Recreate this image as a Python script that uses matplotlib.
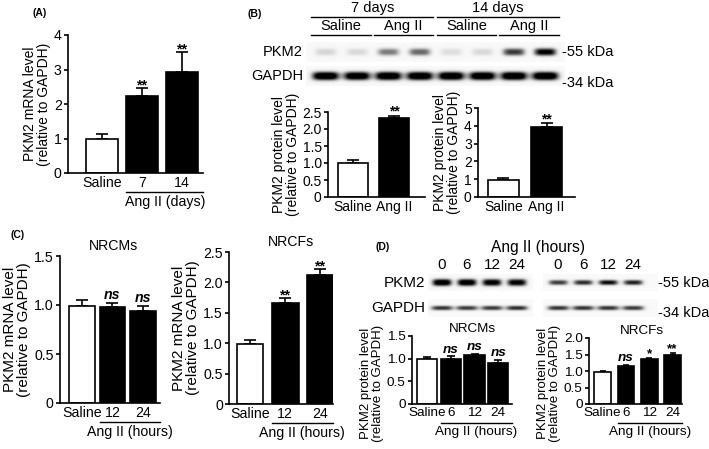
import numpy as np
import matplotlib
matplotlib.use("Agg")
from matplotlib import pyplot as plt
from matplotlib import transforms

plt.rcParams['font.family'] = ['Liberation Sans', 'DejaVu Sans']

# ---- data ----
# (A) mRNA, heart tissue
a_labels = ["Saline", "7", "14"]
a_mean = [1.0, 2.22, 2.92]
a_err = [0.12, 0.23, 0.58]
a_marks = ["", "**", "**"]

# (B) western blot, 7 and 14 days
b_groups = ["7 days", "14 days"]
b_treat = ["Saline", "Ang II", "Saline", "Ang II"]
b_pkm2 = [0.22, 0.2, 0.55, 0.62, 0.18, 0.2, 0.78, 1.0]
b_gapdh = [0.95, 0.92, 0.95, 0.95, 0.95, 0.95, 0.95, 0.95]
b_labels = ["Saline", "Ang II"]
b7_mean = [1.0, 2.32]
b7_err = [0.1, 0.06]
b14_mean = [0.97, 3.93]
b14_err = [0.1, 0.2]
b_marks = ["", "**"]

# (C) mRNA, cells
c_labels = ["Saline", "12", "24"]
c_cm_mean = [0.99, 0.98, 0.94]
c_cm_err = [0.06, 0.04, 0.05]
c_cm_marks = ["", "ns", "ns"]
c_cf_mean = [0.99, 1.66, 2.12]
c_cf_err = [0.06, 0.08, 0.1]
c_cf_marks = ["", "**", "**"]

# (D) western blot, cells
d_hours = ["0", "6", "12", "24", "0", "6", "12", "24"]
d_pkm2 = [0.95, 0.95, 0.9, 0.88, 0.7, 0.75, 0.85, 0.78]
d_gapdh = [0.8, 0.78, 0.78, 0.82, 0.8, 0.8, 0.8, 0.78]
d_labels = ["Saline", "6", "12", "24"]
d_cm_mean = [1.0, 1.0, 1.07, 0.9]
d_cm_err = [0.03, 0.05, 0.04, 0.07]
d_cm_marks = ["", "ns", "ns", "ns"]
d_cf_mean = [0.97, 1.16, 1.37, 1.49]
d_cf_err = [0.03, 0.03, 0.03, 0.05]
d_cf_marks = ["", "ns", "*", "**"]

W, H = 709, 449
fig = plt.figure(figsize=(W / 100, H / 100), dpi=100)


def px_axes(x0, y0, x1, y1):
    # axes from pixel box (y measured from top)
    return fig.add_axes([x0 / W, 1 - y1 / H, (x1 - x0) / W, (y1 - y0) / H])


def tick_text(v, step):
    if v == 0:
        return "0"
    return "%.1f" % v if step < 1 else "%d" % v


def bar_panel(ax, labels, means, errs, marks, ymax, step, bar_w, xlim,
              ylabel, fs=10.2, lfs=10, cap=4, group=None, title=None, title_x=0.5,
              label_y=0.5):
    x = np.arange(len(means))
    colors = ["white"] + ["black"] * (len(means) - 1)
    ax.bar(x, means, width=bar_w, color=colors, edgecolor="black", linewidth=1.2, zorder=2)
    ax.errorbar(x, means, yerr=[np.zeros(len(errs)), errs], fmt="none", ecolor="black",
                elinewidth=1.2, capsize=cap, capthick=1.2, zorder=1)
    for xi, m, e, mk in zip(x, means, errs, marks):
        if not mk:
            continue
        if mk == "ns":
            ax.text(xi, m + e + ymax * 0.01, mk, ha="center", va="bottom", fontsize=fs,
                    fontweight="bold", style="italic")
        else:
            ax.text(xi, m + e - ymax * 0.03, mk, ha="center", va="bottom", fontsize=fs,
                    fontweight="bold")
    ax.set_xlim(*xlim)
    ax.set_ylim(0, ymax)
    ticks = np.arange(0, ymax + step / 2, step)
    ax.set_yticks(ticks, [tick_text(t, step) for t in ticks], fontsize=fs)
    ax.set_xticks(x, labels, fontsize=fs)
    ax.tick_params(axis="x", length=0, pad=2.5)
    ax.tick_params(axis="y", length=3, width=1.2, pad=1.5)
    for s in ["top", "right"]:
        ax.spines[s].set_visible(False)
    for s in ["left", "bottom"]:
        ax.spines[s].set_linewidth(1.2)
    ax.set_ylabel(ylabel, fontsize=lfs, linespacing=1.0, labelpad=2)
    ax.yaxis.label.set_y(label_y)
    if group is not None:
        x_start = 1 - bar_w / 2
        tr = transforms.offset_copy(ax.get_xaxis_transform(), fig=fig, y=-14, units="points")
        ax.plot([x_start, xlim[1]], [0, 0], color="black", lw=1.0, transform=tr, clip_on=False)
        tr2 = transforms.offset_copy(ax.get_xaxis_transform(), fig=fig, y=-15.5, units="points")
        ax.text((x_start + xlim[1]) / 2, 0, group, ha="center", va="top", fontsize=fs,
                transform=tr2)
    if title is not None:
        ax.text(title_x, 1.02, title, ha="center", va="bottom", fontsize=fs,
                transform=ax.transAxes)


def blot_row(ax, lanes, levels, row, x0, x1, hw, hh, bg=0.05, half=0.4, gain=1.0):
    xs = np.linspace(x0, x1, 400)
    ys = np.linspace(row - half, row + half, 50)
    X, Y = np.meshgrid(xs, ys)
    dark = np.full(X.shape, bg)
    for p, lv in zip(lanes, levels):
        dark += gain * lv * np.exp(-np.abs((X - p) / hw) ** 4 - np.abs((Y - row) / hh) ** 2.5)
    ax.imshow(np.clip(dark, 0, 1), cmap="Greys", vmin=0, vmax=1, aspect="auto",
              extent=[x0, x1, row + half, row - half], interpolation="bilinear")


# ---- (A) ----
axA = px_axes(68, 35, 203, 173)
bar_panel(axA, a_labels, a_mean, a_err, a_marks, 4, 1, 0.78, (-0.85, 2.525),
          "PKM2 mRNA level\n(relative to GAPDH)", cap=4.5, group="Ang II (days)")
fig.text(40 / W, 1 - 13 / H, "(A)", fontsize=7.5, fontweight="bold", ha="center", va="center")

# ---- (B) blot ----
axBb = px_axes(305, 40, 565, 88)
b_lanes = np.arange(len(b_pkm2))
blot_row(axBb, b_lanes, b_pkm2, 0, -0.62, 7.62, 0.36, 0.16)
blot_row(axBb, b_lanes, b_gapdh, 1, -0.62, 7.62, 0.44, 0.18, gain=1.25)
axBb.set_xlim(-0.64, 7.64)
axBb.set_ylim(1.5, -0.5)
axBb.axis("off")
for i, g in enumerate(b_groups):
    x0, x1 = 4 * i - 0.45, 4 * i + 3.45
    axBb.plot([x0, x1], [-1.46, -1.46], color="black", lw=1.0, clip_on=False)
    axBb.text((x0 + x1) / 2, -1.55, g, ha="center", va="bottom", fontsize=10.5)
for i, t in enumerate(b_treat):
    x0, x1 = 2 * i - 0.45, 2 * i + 1.45
    axBb.plot([x0, x1], [-0.71, -0.71], color="black", lw=1.0, clip_on=False)
    axBb.text((x0 + x1) / 2, -0.8, t, ha="center", va="bottom", fontsize=10.5)
axBb.text(-0.7, 0, "PKM2", ha="right", va="center", fontsize=10.5)
axBb.text(-0.7, 1, "GAPDH", ha="right", va="center", fontsize=10.5)
axBb.text(7.55, 0, "-55 kDa", ha="left", va="center", fontsize=10.5)
axBb.text(7.55, 1.3, "-34 kDa", ha="left", va="center", fontsize=10.5)
fig.text(255 / W, 1 - 14 / H, "(B)", fontsize=7.5, fontweight="bold", ha="center", va="center")

axB1 = px_axes(328, 112, 425, 197)
bar_panel(axB1, b_labels, b7_mean, b7_err, b_marks, 2.5, 0.5, 0.72, (-0.61, 1.76),
          "PKM2 protein level\n(relative to GAPDH)", fs=10, cap=4)
axB2 = px_axes(478, 108, 575, 197)
bar_panel(axB2, b_labels, b14_mean, b14_err, b_marks, 5, 1, 0.72, (-0.59, 1.66),
          "PKM2 protein level\n(relative to GAPDH)", fs=10, cap=4)

# ---- (C) ----
axC1 = px_axes(60, 256, 160, 403)
bar_panel(axC1, c_labels, c_cm_mean, c_cm_err, c_cm_marks, 1.5, 0.5, 0.84, (-0.72, 2.56),
          "PKM2 mRNA level\n(relative to GAPDH)", lfs=11, cap=4, group="Ang II (hours)",
          title="NRCMs", title_x=0.53)
axC2 = px_axes(229, 252, 333, 404)
bar_panel(axC2, c_labels, c_cf_mean, c_cf_err, c_cf_marks, 2.5, 0.5, 0.77, (-0.6, 2.37),
          "PKM2 mRNA level\n(relative to GAPDH)", lfs=11, cap=4, group="Ang II (hours)",
          title="NRCFs", title_x=0.6)
fig.text(18 / W, 1 - 235 / H, "(C)", fontsize=7.5, fontweight="bold", ha="center", va="center")

# ---- (D) blot ----
axDb = px_axes(428, 272, 658, 320)
d_lanes = np.r_[np.arange(4), np.arange(4) + 4.65]
blot_row(axDb, d_lanes[:4], d_pkm2[:4], 0, -0.56, 3.64, 0.4, 0.15, half=0.34, gain=1.15)
blot_row(axDb, d_lanes[4:], d_pkm2[4:], 0, 4.04, 8.64, 0.4, 0.11, half=0.34, gain=1.1)
blot_row(axDb, d_lanes[:4], d_gapdh[:4], 1, -0.56, 3.64, 0.45, 0.1, half=0.36)
blot_row(axDb, d_lanes[4:], d_gapdh[4:], 1, 4.04, 8.64, 0.45, 0.1, half=0.36)
axDb.set_xlim(-0.56, 8.65)
axDb.set_ylim(1.48, -0.44)
axDb.axis("off")
for p, h in zip(d_lanes, d_hours):
    axDb.text(p, -0.72, h, ha="center", va="center", fontsize=11)
axDb.text((d_lanes[0] + d_lanes[-1]) / 2, -1.42, "Ang II (hours)", ha="center", va="center",
          fontsize=11.2)
axDb.text(-0.68, 0, "PKM2", ha="right", va="center", fontsize=11)
axDb.text(-0.68, 1, "GAPDH", ha="right", va="center", fontsize=11)
axDb.text(8.65, 0, "-55 kDa", ha="left", va="center", fontsize=10.5)
axDb.text(8.65, 1.2, "-34 kDa", ha="left", va="center", fontsize=10.5)
fig.text(383 / W, 1 - 247 / H, "(D)", fontsize=7.5, fontweight="bold", ha="center", va="center")

axD1 = px_axes(412, 336, 512, 404)
bar_panel(axD1, d_labels, d_cm_mean, d_cm_err, d_cm_marks, 1.5, 0.5, 0.85, (-0.64, 3.58),
          "PKM2 protein level\n(relative to GAPDH)", fs=9.7, lfs=9.5, cap=3,
          group="Ang II (hours)", title="NRCMs", title_x=0.6, label_y=0.3)
axD2 = px_axes(589, 338, 682, 404)
bar_panel(axD2, d_labels, d_cf_mean, d_cf_err, d_cf_marks, 2.0, 0.5, 0.72, (-0.58, 3.4),
          "PKM2 protein level\n(relative to GAPDH)", fs=9.7, lfs=9.5, cap=2.5,
          group="Ang II (hours)", title="NRCFs", title_x=0.57, label_y=0.31)

fig.savefig("out.png", dpi=100)
